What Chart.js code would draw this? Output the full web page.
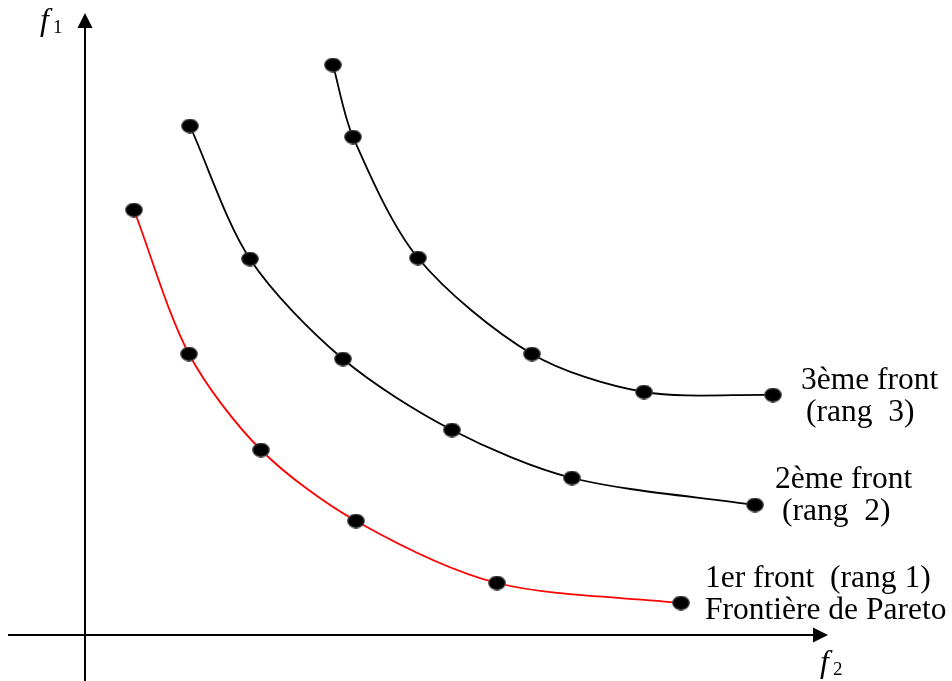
<!DOCTYPE html>
<html>
<head>
<meta charset="utf-8">
<script src="https://cdn.jsdelivr.net/npm/chart.js@4"></script>
<style>
  html, body { margin: 0; padding: 0; background: #fff; }
  canvas { display: block; }
</style>
</head>
<body>
<canvas id="myChart" width="952" height="681"></canvas>
<script>
// fronts de Pareto (f2 en abscisse, f1 en ordonnée)
const front1F2 = [0.49, 1.04, 1.76, 2.71, 4.12, 5.96];
const front1F1 = [4.25, 2.81, 1.85, 1.14, 0.52, 0.32];
const front2F2 = [1.05, 1.65, 2.58, 3.67, 4.87, 6.70];
const front2F1 = [5.09, 3.76, 2.76, 2.05, 1.57, 1.30];
const front3F2 = [2.48, 2.68, 3.33, 4.47, 5.59, 6.88];
const front3F1 = [5.70, 4.98, 3.77, 2.81, 2.43, 2.40];

const toPoints = (xs, ys) => xs.map((x, i) => ({ x: x, y: ys[i] }));

// point en forme d'ellipse
const dot = document.createElement('canvas');
dot.width = 18;
dot.height = 15;
const dctx = dot.getContext('2d');
dctx.beginPath();
dctx.ellipse(9, 7.5, 8.3, 6.8, 0, 0, Math.PI * 2);
dctx.fillStyle = '#000';
dctx.fill();
dctx.lineWidth = 1.2;
dctx.strokeStyle = '#444';
dctx.stroke();

const serif = '"Liberation Serif", "Times New Roman", serif';

const axesPlugin = {
  id: 'axes',
  beforeDatasetsDraw(chart) {
    const ctx = chart.ctx;
    const xs = chart.scales.x;
    const ys = chart.scales.y;
    const x0 = xs.getPixelForValue(0);
    const y0 = ys.getPixelForValue(0);
    const xEnd = xs.getPixelForValue(7.43);
    const yEnd = ys.getPixelForValue(6.22);
    ctx.save();
    ctx.strokeStyle = '#000';
    ctx.fillStyle = '#000';
    ctx.lineWidth = 2;
    // axe horizontal
    ctx.beginPath();
    ctx.moveTo(xs.getPixelForValue(-0.77), y0);
    ctx.lineTo(xEnd - 10, y0);
    ctx.stroke();
    ctx.beginPath();
    ctx.moveTo(xEnd, y0);
    ctx.lineTo(xEnd - 15, y0 - 7.5);
    ctx.lineTo(xEnd - 15, y0 + 7.5);
    ctx.closePath();
    ctx.fill();
    // axe vertical
    ctx.beginPath();
    ctx.moveTo(x0, chart.height);
    ctx.lineTo(x0, yEnd + 10);
    ctx.stroke();
    ctx.beginPath();
    ctx.moveTo(x0, yEnd);
    ctx.lineTo(x0 - 7.5, yEnd + 15);
    ctx.lineTo(x0 + 7.5, yEnd + 15);
    ctx.closePath();
    ctx.fill();

    // noms des axes
    ctx.textBaseline = 'alphabetic';
    ctx.textAlign = 'left';
    ctx.font = 'italic 32px ' + serif;
    ctx.fillText('f', x0 - 45, yEnd + 17);
    ctx.fillText('f', xEnd - 8, y0 + 37);
    ctx.font = '19px ' + serif;
    ctx.fillText('1', x0 - 32, yEnd + 20);
    ctx.fillText('2', xEnd + 5, y0 + 40);
    ctx.restore();
  },
  afterDraw(chart) {
    const ctx = chart.ctx;
    ctx.save();
    ctx.fillStyle = '#000';
    ctx.font = '31.5px ' + serif;
    ctx.textAlign = 'left';
    ctx.textBaseline = 'alphabetic';
    ctx.fillText('3ème front', 801, 389);
    ctx.fillText('(rang  3)', 806, 421);
    ctx.fillText('2ème front', 775, 488);
    ctx.fillText('(rang  2)', 782, 520);
    ctx.fillText('1er front  (rang 1)', 705, 587);
    ctx.fillText('Frontière de Pareto', 705, 619);
    ctx.restore();
  }
};

const lineStyle = (color) => ({
  borderColor: color,
  borderWidth: 1.8,
  pointStyle: dot,
  pointRadius: 8,
  pointHoverRadius: 8,
  tension: 0.3,
  showLine: true,
  fill: false
});

const data = {
  datasets: [
    Object.assign({ label: '1er front', data: toPoints(front1F2, front1F1) }, lineStyle('#ff0000')),
    Object.assign({ label: '2ème front', data: toPoints(front2F2, front2F1) }, lineStyle('#000000')),
    Object.assign({ label: '3ème front', data: toPoints(front3F2, front3F1) }, lineStyle('#000000'))
  ]
};

const config = {
  type: 'scatter',
  data: data,
  options: {
    responsive: false,
    animation: false,
    layout: { padding: 0, autoPadding: false },
    plugins: {
      legend: { display: false },
      tooltip: { enabled: false }
    },
    scales: {
      x: { type: 'linear', min: -0.85, max: 8.67, display: false },
      y: { type: 'linear', min: -0.46, max: 6.35, display: false }
    }
  },
  plugins: [axesPlugin]
};

new Chart(document.getElementById('myChart'), config);
</script>
</body>
</html>
